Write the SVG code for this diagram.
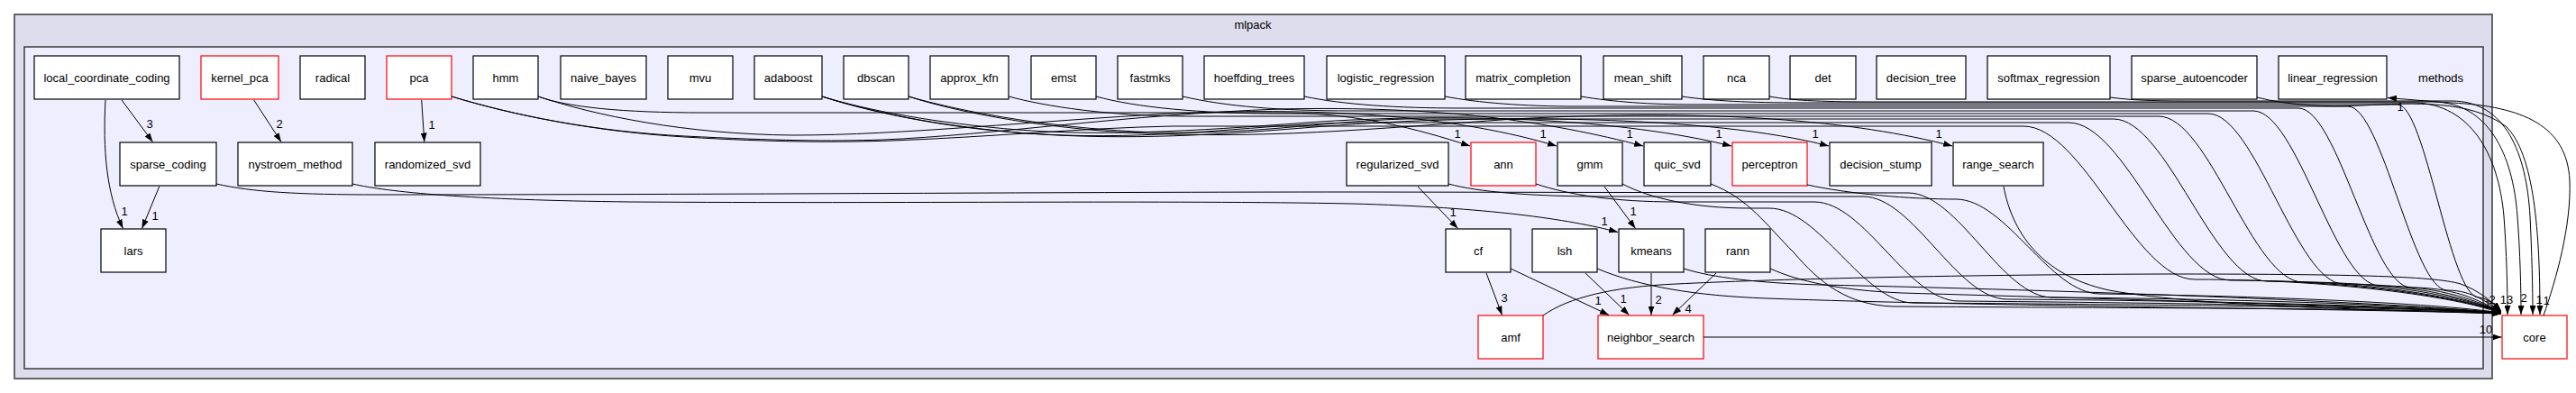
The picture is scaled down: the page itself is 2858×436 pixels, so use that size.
<svg xmlns="http://www.w3.org/2000/svg" width="2858" height="436" viewBox="0 0 2858 436">
<style>
.cl1{fill:#ddddee;stroke:#444;stroke-width:1.6}
.cl2{fill:#eeeeff;stroke:#444;stroke-width:1.6}
.n rect{fill:#fff;stroke:#000;stroke-width:1.2}
.n.r rect{stroke:#ff0000}
text{font-family:"Liberation Sans",Arial,Helvetica,sans-serif;font-size:13px;fill:#000;text-anchor:middle}
.e path{fill:none;stroke:#000;stroke-width:1;marker-end:url(#ah)}
</style>
<defs>
<marker id="ah" viewBox="0 0 10 7" refX="10" refY="3.5" markerWidth="10" markerHeight="7" markerUnits="userSpaceOnUse" orient="auto"><path d="M0,0 L10,3.5 L0,7 z" fill="#000"/></marker>
</defs>
<rect width="2858" height="436" fill="#fff"/>
<g id="cluster-mlpack"><rect class="cl1" x="16" y="16" width="2749" height="404"/><text x="1390" y="32">mlpack</text></g>
<g id="cluster-methods"><rect class="cl2" x="27" y="52" width="2728" height="357"/><text x="2708" y="90.5">methods</text></g>

<g id="local_coordinate_coding" class="n"><rect x="38" y="62" width="161" height="48"/><text x="118.5" y="90.5">local_coordinate_coding</text></g>
<g id="kernel_pca" class="n r"><rect x="223" y="62" width="86" height="48"/><text x="266" y="90.5">kernel_pca</text></g>
<g id="radical" class="n"><rect x="333" y="62" width="72" height="48"/><text x="369" y="90.5">radical</text></g>
<g id="pca" class="n r"><rect x="429" y="62" width="72" height="48"/><text x="465" y="90.5">pca</text></g>
<g id="hmm" class="n"><rect x="525" y="62" width="72" height="48"/><text x="561" y="90.5">hmm</text></g>
<g id="naive_bayes" class="n"><rect x="622" y="62" width="95" height="48"/><text x="669.5" y="90.5">naive_bayes</text></g>
<g id="mvu" class="n"><rect x="741" y="62" width="72" height="48"/><text x="777" y="90.5">mvu</text></g>
<g id="adaboost" class="n"><rect x="837" y="62" width="75" height="48"/><text x="874.5" y="90.5">adaboost</text></g>
<g id="dbscan" class="n"><rect x="936" y="62" width="72" height="48"/><text x="972" y="90.5">dbscan</text></g>
<g id="approx_kfn" class="n"><rect x="1032" y="62" width="87" height="48"/><text x="1075.5" y="90.5">approx_kfn</text></g>
<g id="emst" class="n"><rect x="1144" y="62" width="72" height="48"/><text x="1180" y="90.5">emst</text></g>
<g id="fastmks" class="n"><rect x="1240" y="62" width="72" height="48"/><text x="1276" y="90.5">fastmks</text></g>
<g id="hoeffding_trees" class="n"><rect x="1336" y="62" width="111" height="48"/><text x="1391.5" y="90.5">hoeffding_trees</text></g>
<g id="logistic_regression" class="n"><rect x="1472" y="62" width="131" height="48"/><text x="1537.5" y="90.5">logistic_regression</text></g>
<g id="matrix_completion" class="n"><rect x="1626" y="62" width="128" height="48"/><text x="1690" y="90.5">matrix_completion</text></g>
<g id="mean_shift" class="n"><rect x="1779" y="62" width="87" height="48"/><text x="1822.5" y="90.5">mean_shift</text></g>
<g id="nca" class="n"><rect x="1890" y="62" width="73" height="48"/><text x="1926.5" y="90.5">nca</text></g>
<g id="det" class="n"><rect x="1986" y="62" width="73" height="48"/><text x="2022.5" y="90.5">det</text></g>
<g id="decision_tree" class="n"><rect x="2082" y="62" width="99" height="48"/><text x="2131.5" y="90.5">decision_tree</text></g>
<g id="softmax_regression" class="n"><rect x="2205" y="62" width="136" height="48"/><text x="2273" y="90.5">softmax_regression</text></g>
<g id="sparse_autoencoder" class="n"><rect x="2365" y="62" width="139" height="48"/><text x="2434.5" y="90.5">sparse_autoencoder</text></g>
<g id="linear_regression" class="n"><rect x="2528" y="62" width="120" height="48"/><text x="2588" y="90.5">linear_regression</text></g>

<g id="sparse_coding" class="n"><rect x="133" y="158" width="107" height="48"/><text x="186.5" y="186.5">sparse_coding</text></g>
<g id="nystroem_method" class="n"><rect x="264" y="158" width="127" height="48"/><text x="327.5" y="186.5">nystroem_method</text></g>
<g id="randomized_svd" class="n"><rect x="416" y="158" width="117" height="48"/><text x="474.5" y="186.5">randomized_svd</text></g>
<g id="regularized_svd" class="n"><rect x="1494" y="158" width="113" height="48"/><text x="1550.5" y="186.5">regularized_svd</text></g>
<g id="ann" class="n r"><rect x="1632" y="158" width="72" height="48"/><text x="1668" y="186.5">ann</text></g>
<g id="gmm" class="n"><rect x="1728" y="158" width="72" height="48"/><text x="1764" y="186.5">gmm</text></g>
<g id="quic_svd" class="n"><rect x="1824" y="158" width="74" height="48"/><text x="1861" y="186.5">quic_svd</text></g>
<g id="perceptron" class="n r"><rect x="1922" y="158" width="83" height="48"/><text x="1963.5" y="186.5">perceptron</text></g>
<g id="decision_stump" class="n"><rect x="2030" y="158" width="113" height="48"/><text x="2086.5" y="186.5">decision_stump</text></g>
<g id="range_search" class="n"><rect x="2167" y="158" width="100" height="48"/><text x="2217" y="186.5">range_search</text></g>

<g id="lars" class="n"><rect x="112" y="254" width="72" height="48"/><text x="148" y="282.5">lars</text></g>
<g id="cf" class="n"><rect x="1604" y="254" width="72" height="48"/><text x="1640" y="282.5">cf</text></g>
<g id="lsh" class="n"><rect x="1700" y="254" width="72" height="48"/><text x="1736" y="282.5">lsh</text></g>
<g id="kmeans" class="n"><rect x="1796" y="254" width="72" height="48"/><text x="1832" y="282.5">kmeans</text></g>
<g id="rann" class="n"><rect x="1892" y="254" width="72" height="48"/><text x="1928" y="282.5">rann</text></g>

<g id="amf" class="n r"><rect x="1640" y="350" width="72" height="48"/><text x="1676" y="378.5">amf</text></g>
<g id="neighbor_search" class="n r"><rect x="1773" y="350" width="117" height="48"/><text x="1831.5" y="378.5">neighbor_search</text></g>
<g id="core" class="n r"><rect x="2776" y="350" width="72" height="48"/><text x="2812" y="378.5">core</text></g>

<g id="connectors" class="e">
<path d="M117,111 C114,165 118,215 136.5,253.5"/>
<path d="M135,111 L169.5,157.5"/>
<path d="M281.7,111 L312,157.5"/>
<path d="M467.7,111 L470.8,157.5"/>
<path d="M176.7,207 L157.5,253.5"/>
<path d="M391,204 C430,213 520,222 700,224 C1000,226 1300,222 1500,226 C1650,230 1740,243 1795,257.5"/>
<path d="M1573,207 L1617.5,253.5"/>
<path d="M1780,207 L1814.5,253.5"/>
<path d="M1649,303 L1666.5,349.5"/>
<path d="M1676,298 L1785,349.5"/>
<path d="M1759,303 L1807.5,349.5"/>
<path d="M1832,303 L1832,349.5"/>
<path d="M1904,303 L1855.5,349.5"/>
<path d="M1890,374 L2775.5,374"/>
<path d="M2822,350 C2836,310 2853,250 2851,200 C2848,140 2800,118 2720,114 C2690,112 2668,110 2649,108.5"/>

<path d="M597,107 C630,119 690,125 780,125 L1430,125 C1510,127 1570,142 1631,162"/>
<path d="M597,107 C660,128 760,149 880,150 C1000,150 1150,134 1300,126 C1480,118 1620,130 1727,162"/>
<path d="M501,107 C570,128 660,146 760,151 C860,156 920,157 980,155 C1100,150 1250,127 1420,121 C1600,117 1720,135 1823,162"/>
<path d="M912,107 C960,122 1040,137 1130,144 C1220,151 1320,146 1450,136 C1620,124 1800,132 1921,162"/>
<path d="M912,107 C960,123 1040,140 1140,148 C1250,156 1350,150 1470,140 C1650,126 1900,128 2029,162"/>
<path d="M1008,107 C1060,124 1150,141 1250,147 C1400,155 1520,143 1680,132 C1900,120 2060,134 2166,162"/>

<path d="M501,107 C570,128 660,146 760,152 C860,158 930,158 990,156 C1100,152 1200,142 1300,140 L2245,140 C2311,140 2369,310 2435,310 C2600,310 2740,332 2775,348"/>
<path d="M912,107 C970,125 1060,146 1180,150 C1300,154 1400,138 1500,136 L2295,136 C2358,136 2412,311 2475,311 C2625,311 2745,334 2775,347"/>
<path d="M1008,107 C1060,122 1150,140 1260,146 C1380,152 1470,134 1560,132 L2345,132 C2404,132 2456,312 2515,312 C2645,312 2745,335 2775,346"/>
<path d="M1119,107 C1160,118 1230,129 1320,129 L2395,129 C2451,129 2499,313 2555,313 C2665,313 2748,335 2775,346"/>
<path d="M1216,107 C1260,119 1330,126 1420,126 L2450,126 C2502,126 2548,315 2600,315 C2690,315 2750,336 2775,346"/>
<path d="M1312,107 C1360,118 1420,123 1500,123 L2500,123 C2549,123 2591,317 2640,317 C2710,317 2752,336 2775,346"/>
<path d="M1447,107 C1490,116 1550,120 1620,120 L2550,120 C2594,120 2631,319 2675,319 C2730,319 2755,337 2775,346"/>
<path d="M1603,107 C1640,114 1690,118 1750,118 L2605,118 C2643,118 2677,322 2715,322 C2745,322 2762,338 2775,346"/>
<path d="M1754,107 C1790,113 1830,116 1880,116 L2660,116 C2691,116 2718,330 2750,330 C2760,331 2768,338 2775,345"/>
<path d="M1866,107 C1900,112 1940,114 2000,114 L2680,114 C2740,116 2772,170 2778,240 C2781,280 2782,320 2782,349"/>
<path d="M1963,107 C1990,112 2030,113 2080,113 L2700,113 C2760,114 2788,170 2793,240 C2796,280 2797,320 2797,349"/>
<path d="M2341,108 C2370,112 2400,112 2440,112 L2720,112 C2780,112 2803,170 2807,240 C2809,280 2810,320 2810,349"/>
<path d="M2504,108 C2540,117 2580,119 2620,117 C2680,114 2740,111 2780,140 C2812,170 2818,260 2818,349"/>

<path d="M240,204 C280,213 330,216 420,216 C800,216 1200,213 1500,213 L2117,214 C2173,214 2221,330 2277,330 C2450,331 2700,338 2775,348"/>
<path d="M1607,204 C1640,213 1700,218 1780,218 L2067,218 C2123,218 2171,332 2227,332 C2400,333 2700,339 2775,348"/>
<path d="M1704,204 C1740,216 1790,224 1860,224 L2013,224 C2069,224 2117,334 2173,334 C2400,336 2700,340 2775,348"/>
<path d="M1800,204 C1830,220 1880,231 1940,231 L1963,231 C2019,231 2067,336 2123,336 C2400,338 2700,341 2775,348"/>
<path d="M1898,204 C1940,220 1960,250 1990,280 C2020,315 2050,338 2100,340 C2400,342 2700,342 2775,348"/>
<path d="M2005,205 C2050,215 2120,221 2170,221 C2226,221 2274,326 2330,326 C2500,328 2700,336 2775,347"/>
<path d="M2223,207 C2232,255 2262,305 2340,322 C2450,342 2680,344 2775,348"/>
<path d="M1772,298 C1820,318 1880,328 1960,331 C2200,340 2600,342 2775,348"/>
<path d="M1868,298 C1900,308 1950,314 2020,316 C2300,322 2650,335 2775,347"/>
<path d="M1964,298 C1995,312 2040,322 2110,325 C2350,332 2650,340 2775,347"/>
<path d="M1712,350 C1740,330 1790,318 1860,315 C1960,310 2150,305 2400,304 C2600,304 2700,306 2730,315 C2750,322 2765,335 2775,345"/>
</g>

<g id="edge-labels">
<text x="138" y="239">1</text>
<text x="166" y="142">3</text>
<text x="310" y="142">2</text>
<text x="479" y="143">1</text>
<text x="172" y="244">1</text>
<text x="1617" y="153">1</text>
<text x="1712" y="153">1</text>
<text x="1808" y="153">1</text>
<text x="1907" y="153">1</text>
<text x="2014" y="153">1</text>
<text x="2151" y="153">1</text>
<text x="1612" y="240">1</text>
<text x="1812" y="239">1</text>
<text x="1780" y="250">1</text>
<text x="1669" y="335">3</text>
<text x="1773" y="338">1</text>
<text x="1801" y="336">1</text>
<text x="1840" y="337">2</text>
<text x="1873" y="347">4</text>
<text x="2758" y="370">10</text>
<text x="2663" y="123">1</text>
<text x="2781" y="337">13</text>
<text x="2800" y="335">2</text>
<text x="2817" y="337">1</text>
<text x="2825" y="338">1</text>
<text x="2765" y="337">2</text>
<text x="2760" y="342">1</text>
</g>
</svg>
